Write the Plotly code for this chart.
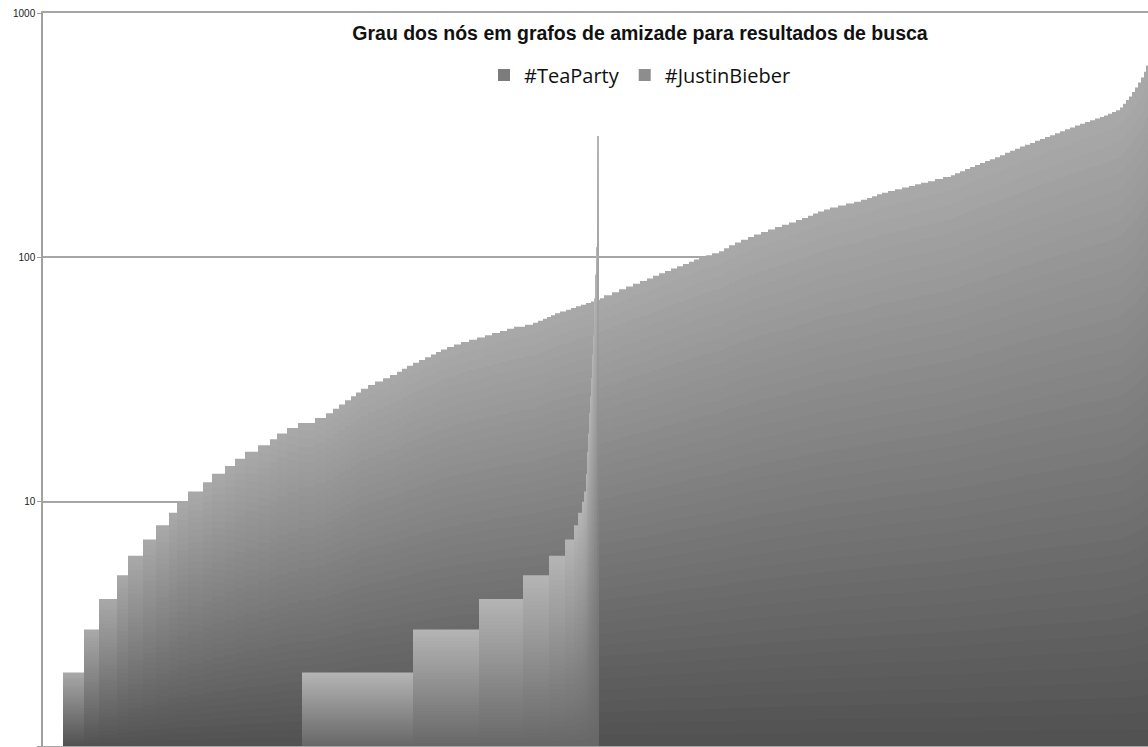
import numpy as np
import plotly.graph_objects as go

title_text = "Grau dos nós em grafos de amizade para resultados de busca"
series_names = ["#TeaParty", "#JustinBieber"]

# degree value and number of nodes having that degree (nodes sorted by degree)
tea_degree = [1, 2, 3, 4, 5, 6, 7, 8, 9, 10, 11, 12, 13, 14, 15, 16, 17, 18, 19, 20, 21, 22, 23,
              24, 25, 26, 27, 28, 29, 30, 31, 32, 33, 34, 35, 36, 37, 38, 39, 40, 41, 42, 43, 44,
              45, 46, 47, 48, 49, 50, 51, 52, 53,
              54, 55, 56, 57, 58, 59, 60, 61, 62, 63, 64, 65, 66, 67, 68,
              70, 72, 74, 76, 78, 80, 82, 84, 86, 88, 90, 92, 94, 96, 98, 100,
              102, 104, 106, 109, 112, 115, 118, 121, 124, 127, 130, 133, 136, 139, 142, 145,
              148, 151, 154, 157, 160, 163, 166, 169, 172, 175, 178, 181, 184, 187, 190, 193,
              196, 199, 202, 205, 209, 213,
              217, 221, 225, 230, 234, 239, 243, 248, 252, 257,
              262, 268, 273, 278, 284, 289, 294, 300, 305, 311, 316, 322, 328, 334, 340, 346,
              352, 358, 364, 370,
              375, 381, 387, 393, 400,
              410, 425, 440, 455, 475, 495, 520, 545, 575, 610]
tea_nodes = [20, 21, 15, 18, 11, 15, 13, 13, 8, 11, 15, 9, 13, 10, 10, 13, 12, 7, 10, 11, 17, 11, 7,
             6, 6, 6, 5, 5, 7, 7, 8, 7, 7, 5, 5, 6, 6, 6, 6, 5, 5, 6, 7, 7,
             8, 8, 8, 7, 8, 7, 7, 11, 8,
             5, 5, 4, 4, 4, 5, 6, 5, 5, 5, 5, 5, 4, 5, 4,
             8, 7, 7, 7, 7, 7, 6, 6, 6, 6, 6, 6, 6, 5, 5, 7,
             6, 7, 5, 5, 6, 6, 7, 6, 7, 7, 7, 7, 7, 7, 6, 6,
             5, 5, 6, 6, 8, 8, 8, 7, 6, 5, 5, 5, 6, 7, 7, 7,
             6, 6, 7, 7, 8, 8,
             4, 5, 5, 5, 5, 5, 5, 5, 5, 5,
             5, 5, 5, 5, 5, 5, 5, 5, 5, 5, 5, 5, 5, 5, 5, 5,
             5, 5, 5, 5,
             4, 4, 4, 4, 4,
             3, 3, 3, 3, 3, 3, 3, 3, 2, 2]

jb_degree = [1, 2, 3, 4, 5, 6, 7, 8, 9, 10, 11, 13, 16, 19, 23, 27, 32, 40, 48, 68, 85, 110, 314]
jb_nodes = [259, 111, 66, 44, 26, 16, 9, 4, 4, 2, 2, 1, 1, 1, 1, 1, 1, 1, 1, 1, 1, 1, 2]

y_tickvals = [1, 10, 100, 1000]
y_ticktext = ["1", "10", "100", "1000"]


def runs_to_bars(deg, cnt):
    cnt = np.asarray(cnt, dtype=float)
    start = np.concatenate([[0.0], np.cumsum(cnt)[:-1]])
    return start + cnt / 2.0, cnt, np.asarray(deg, dtype=float)


N_BANDS = 40


def add_gradient_series(fig, name, deg, cnt, top_rgb, bot_rgb):
    x, w, d = runs_to_bars(deg, cnt)
    for k in range(N_BANDS):
        frac = (N_BANDS - k) / N_BANDS
        t = k / (N_BANDS - 1)
        rgb = tuple(int(round(a + (b - a) * t)) for a, b in zip(top_rgb, bot_rgb))
        fig.add_trace(go.Bar(
            x=x, y=d ** frac, width=w,
            marker=dict(color="rgb(%d,%d,%d)" % rgb, line=dict(width=0)),
            name=name, legendgroup=name,
            showlegend=(k == N_BANDS // 2),
            hoverinfo="skip",
        ))


fig = go.Figure()
add_gradient_series(fig, series_names[0], tea_degree, tea_nodes, (168, 168, 168), (82, 82, 82))
add_gradient_series(fig, series_names[1], jb_degree, jb_nodes, (180, 180, 180), (104, 104, 104))

total_nodes = float(sum(tea_nodes))

fig.update_layout(
    width=1148, height=747,
    margin=dict(l=43, r=0, t=13, b=1, pad=0),
    paper_bgcolor="white", plot_bgcolor="white",
    barmode="overlay",
    title=dict(text=title_text, x=640 / 1148, xanchor="center", xref="container",
               y=1 - 33 / 747, yanchor="middle", yref="container",
               font=dict(family="Liberation Sans, Arial", size=19.5, color="#111111", weight="bold")),
    legend=dict(orientation="h", x=(640 - 43) / 1105, xanchor="center",
                y=(746 - 75) / 733, yanchor="middle",
                font=dict(family="Open Sans", size=20, color="#111111"),
                bgcolor="rgba(0,0,0,0)", itemwidth=30, traceorder="normal"),
    xaxis=dict(range=[0, total_nodes], showticklabels=False, showgrid=False, zeroline=False,
               showline=True, mirror=True, linecolor="#a6a6a6", linewidth=2, ticks=""),
    yaxis=dict(type="log", range=[0, 3], tickvals=y_tickvals, ticktext=y_ticktext,
               showgrid=True, gridcolor="#a6a6a6", gridwidth=1.5, zeroline=False,
               showline=True, linecolor="#a0a0a0", linewidth=1.5,
               ticks="outside", ticklen=4, tickcolor="#a0a0a0",
               tickfont=dict(family="Liberation Sans, Arial", size=10, color="#222222")),
    showlegend=True,
)

fig.write_html("out.html")
